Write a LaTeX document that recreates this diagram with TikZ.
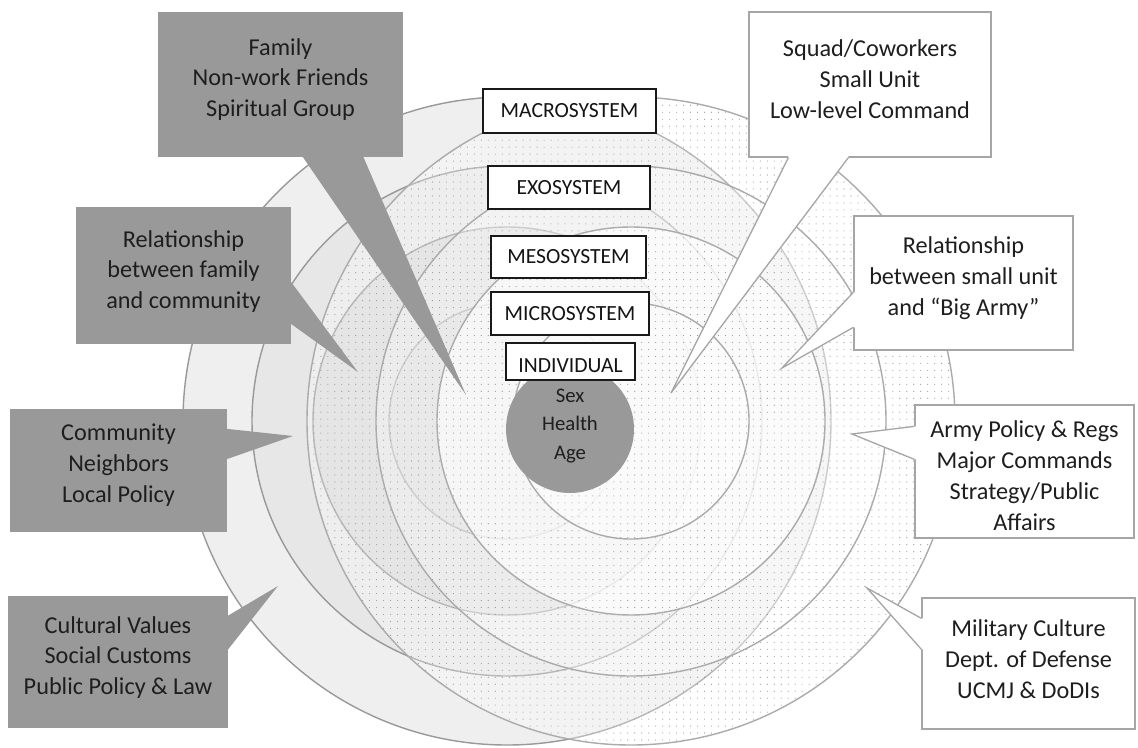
\documentclass[tikz,border=0pt]{standalone}
\usepackage{fontspec}
\setmainfont{Carlito}
\usetikzlibrary{calc,patterns}

\definecolor{ringA}{HTML}{EFEFEF}
\definecolor{ringB}{HTML}{E7E7E7}
\definecolor{ringC}{HTML}{DADADA}
\definecolor{ringD}{HTML}{D4D4D4}
\definecolor{leftedge}{HTML}{999999}
\definecolor{rightedge}{HTML}{ABABAB}
\definecolor{dotgray}{HTML}{959595}
\definecolor{boxgray}{HTML}{999999}
\definecolor{inkdark}{HTML}{1E1E1E}
\definecolor{calloutedge}{HTML}{A6A6A6}

% sparse dot screen used inside the right-hand family of rings
\pgfdeclarepatternformonly{sparsedots}{\pgfqpoint{-0.5pt}{-0.5pt}}{\pgfqpoint{0.5pt}{0.5pt}}{\pgfqpoint{3.97pt}{3.97pt}}{%
  \pgfpathcircle{\pgfqpoint{0pt}{0pt}}{0.32pt}\pgfusepath{fill}}

\tikzset{
  leftring/.style={draw=leftedge, line width=0.8pt},
  rightveil/.style={fill=white, fill opacity=#1},
  rightring/.style={draw=rightedge, line width=0.8pt},
  sysbox/.style={rectangle, draw=black!90, line width=1.1pt, fill=white, inner sep=0pt,
    text=black!92, font=\fontsize{12.3pt}{14pt}\selectfont},
  corecircle/.style={circle, fill=boxgray, inner sep=0pt, minimum size=2.56cm},
  coretext/.style={align=center, inner sep=0pt, text=inkdark, font=\fontsize{11.8pt}{16.2pt}\selectfont},
  darkbox/.style={rectangle, fill=boxgray, inner sep=0pt},
  lightbox/.style={rectangle, fill=white, draw=calloutedge, line width=0.75pt, inner sep=0pt},
  calloutline/.style={draw=calloutedge, line width=0.75pt, line join=miter},
  calltext/.style={align=center, inner sep=0pt, text=inkdark, font=\fontsize{13.8pt}{17.6pt}\selectfont}
}

\begin{document}
\begin{tikzpicture}[x=0.02cm, y=-0.02cm]
\useasboundingbox (0,0) rectangle (1138,747);
\fill[white] (0,0) rectangle (1138,747);

% ---- the two families of nested rings ----
\coordinate (lc) at (507,421);
\coordinate (rc) at (631,421);

% left family: solid grey discs, darker towards the middle
\fill[ringA] (lc) circle[radius=324];
\fill[ringB] (lc) circle[radius=255];
\fill[ringC] (lc) circle[radius=194];
\fill[ringD] (lc) circle[radius=118];
\foreach \r in {324,255,194,118}
  \draw[leftring] (lc) circle[radius=\r];

% right family: whitening veils, stronger towards the middle
\foreach \r/\o in {324/0.3,255/0.3,194/0.6,118/0.45}
  \fill[rightveil=\o] (rc) circle[radius=\r];
\fill[pattern=sparsedots, pattern color=dotgray] (rc) circle[radius=324];
\foreach \r in {324,255,194,118}
  \draw[rightring] (rc) circle[radius=\r];

% ---- individual at the centre ----
\node[corecircle] (core) at (570,429) {};
\node[coretext] at ($(core.center)+(0,-3)$) {Sex\\Health\\Age};

% ---- system labels ----
\node[sysbox, minimum width=3.46cm, minimum height=0.88cm] (macro) at (569.5,111) {MACROSYSTEM};
\node[sysbox, minimum width=3.24cm, minimum height=0.86cm] (exo)   at (569,187.5) {EXOSYSTEM};
\node[sysbox, minimum width=3.10cm, minimum height=0.84cm] (meso)  at (568.5,257) {MESOSYSTEM};
\node[sysbox, minimum width=3.16cm, minimum height=0.86cm] (micro) at (570,313.5) {MICROSYSTEM};
\node[sysbox, minimum width=2.58cm, minimum height=0.74cm, text height=12.4pt, text depth=0pt] (indiv) at (570.5,361.5) {INDIVIDUAL};

% ---- pointer tips ----
\coordinate (famtip)   at (466,395);
\coordinate (relLtip)  at (358,372);
\coordinate (commtip)  at (293,436);
\coordinate (culttip)  at (278,586);
\coordinate (squadtip) at (671,393);
\coordinate (relRtip)  at (782,368);
\coordinate (armytip)  at (852,434);
\coordinate (miltip)   at (867,588);

% ---- civilian callouts (left, dark) ----
\node[darkbox, minimum width=4.90cm, minimum height=2.90cm] (fam) at (280.5,84.5) {};
\fill[boxgray] ($(fam.south west)+(144,-2)$) -- (famtip) -- ($(fam.south west)+(205,-2)$) -- cycle;
\node[calltext] at ($(fam.center)+(0,-5)$) {Family\\Non-work Friends\\Spiritual Group};

\node[darkbox, minimum width=4.30cm, minimum height=2.74cm] (relL) at (183.5,275.5) {};
\fill[boxgray] ($(relL.north east)+(-2,73)$) -- (relLtip) -- ($(relL.north east)+(-2,116)$) -- cycle;
\node[calltext] at ($(relL.center)+(0,-4)$) {Relationship\\between family\\and community};

\node[darkbox, minimum width=4.34cm, minimum height=2.46cm] (comm) at (118.5,470.5) {};
\fill[boxgray] ($(comm.north east)+(-2,20)$) -- (commtip) -- ($(comm.north east)+(-2,51)$) -- cycle;
\node[calltext] at ($(comm.center)+(0,-5)$) {Community\\Neighbors\\Local Policy};

\node[darkbox, minimum width=4.40cm, minimum height=2.64cm] (cult) at (118,662) {};
\fill[boxgray] ($(cult.north east)+(-2,21)$) -- (culttip) -- ($(cult.north east)+(-2,56)$) -- cycle;
\node[calltext] at ($(cult.center)+(0,-4.5)$) {Cultural Values\\Social Customs\\Public Policy \& Law};

% ---- military callouts (right, white) ----
\node[lightbox, minimum width=4.84cm, minimum height=2.90cm] (squad) at (870,84.5) {};
\fill[white] ($(squad.south west)+(40,-2)$) -- ($(squad.south west)+(40,0)$) -- (squadtip)
  -- ($(squad.south west)+(100,0)$) -- ($(squad.south west)+(100,-2)$) -- cycle;
\draw[calloutline] ($(squad.south west)+(40,0)$) -- (squadtip) -- ($(squad.south west)+(100,0)$);
\node[calltext] at ($(squad.center)+(0,-5)$) {Squad/Coworkers\\Small Unit\\Low-level Command};

\node[lightbox, minimum width=4.38cm, minimum height=2.68cm] (relR) at (963.5,283) {};
\fill[white] ($(relR.north west)+(2,77)$) -- ($(relR.north west)+(0,77)$) -- (relRtip)
  -- ($(relR.north west)+(0,112)$) -- ($(relR.north west)+(2,112)$) -- cycle;
\draw[calloutline] ($(relR.north west)+(0,77)$) -- (relRtip) -- ($(relR.north west)+(0,112)$);
\node[calltext] at ($(relR.center)+(0,-4.5)$) {Relationship\\between small unit\\and “Big Army”};

\node[lightbox, minimum width=4.38cm, minimum height=2.66cm] (army) at (1024.5,471.5) {};
\fill[white] ($(army.north west)+(2,22)$) -- ($(army.north west)+(0,22)$) -- (armytip)
  -- ($(army.north west)+(0,55)$) -- ($(army.north west)+(2,55)$) -- cycle;
\draw[calloutline] ($(army.north west)+(0,22)$) -- (armytip) -- ($(army.north west)+(0,55)$);
\node[calltext] at ($(army.center)+(0,4.5)$) {Army Policy \& Regs\\Major Commands\\Strategy/Public\\Affairs};

\node[lightbox, minimum width=4.26cm, minimum height=2.62cm] (mil) at (1028.5,663.5) {};
\fill[white] ($(mil.north west)+(2,21)$) -- ($(mil.north west)+(0,21)$) -- (miltip)
  -- ($(mil.north west)+(0,52)$) -- ($(mil.north west)+(2,52)$) -- cycle;
\draw[calloutline] ($(mil.north west)+(0,21)$) -- (miltip) -- ($(mil.north west)+(0,52)$);
\node[calltext] at ($(mil.center)+(0,-4)$) {Military Culture\\Dept. of Defense\\UCMJ \& DoDIs};
\end{tikzpicture}
\end{document}
